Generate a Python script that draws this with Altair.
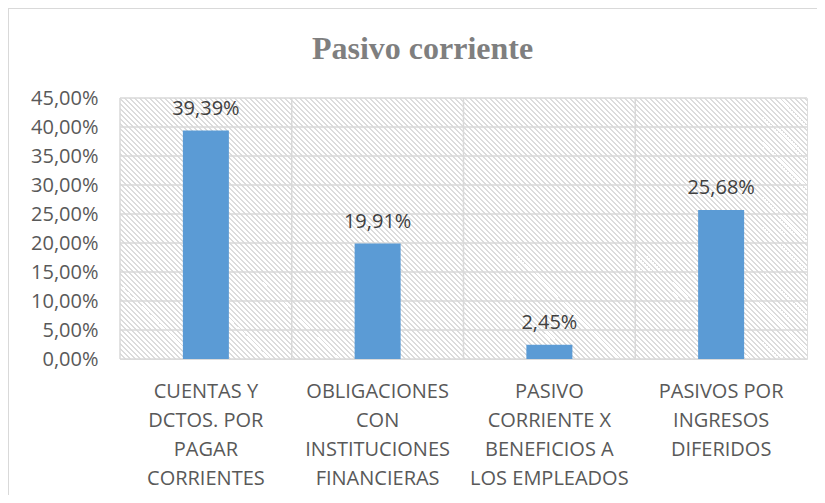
import altair as alt
import pandas as pd

# ---- data ----
categories = [
    "CUENTAS Y|DCTOS. POR|PAGAR|CORRIENTES",
    "OBLIGACIONES|CON|INSTITUCIONES|FINANCIERAS",
    "PASIVO|CORRIENTE X|BENEFICIOS A|LOS EMPLEADOS",
    "PASIVOS POR|INGRESOS|DIFERIDOS",
]
values = [0.3939, 0.1991, 0.0245, 0.2568]
y_ticks = [0.0, 0.05, 0.10, 0.15, 0.20, 0.25, 0.30, 0.35, 0.40, 0.45]

W, H = 687, 261

df = pd.DataFrame({"cat": categories, "v": values})
ticks_df = pd.DataFrame({"t": y_ticks})
one_df = pd.DataFrame({"a": [0]})

# ---- hatch pattern approximated by a striped linear gradient ----
k = (W + H) / (W * W + H * H)
period = 5.0
line_w = 1.4
tp = period / (W + H)
tw = line_w / (W + H)
stops = []
t = 0.0
hatch_col = "#dcdcdc"
while t < 1.0:
    a = min(t + tw, 1.0)
    b = min(t + tp, 1.0)
    stops += [
        {"offset": t, "color": hatch_col},
        {"offset": a, "color": hatch_col},
        {"offset": a, "color": "#ffffff"},
        {"offset": b, "color": "#ffffff"},
    ]
    t = b
hatch = alt.LinearGradient(
    gradient="linear", x1=0, y1=1, x2=W * k, y2=1 - H * k, stops=stops
)

x_scale = alt.Scale(paddingInner=0, paddingOuter=0)
y_scale = alt.Scale(domain=[0, 0.45], nice=False)

x_axis = alt.Axis(
    title=None, labelAngle=0, ticks=False, domain=False, grid=False,
    labelExpr="split(datum.label, '|')", labelFont="Open Sans",
    labelFontSize=20, labelColor="#595959", labelLineHeight=29,
    labelPadding=22, labelBaseline="top",
)
y_axis = alt.Axis(
    title=None, ticks=False, domain=False, grid=False, values=y_ticks,
    labelExpr="replace(format(datum.value, '.2%'), '.', ',')",
    labelFont="Open Sans", labelFontSize=20, labelColor="#595959",
    labelPadding=22,
)

bg = alt.Chart(one_df).mark_rect(fill=hatch, strokeWidth=0).encode(
    x=alt.value(0), x2=alt.value("width"), y=alt.value(0), y2=alt.value("height")
)

hgrid = alt.Chart(ticks_df).mark_rule(color="#d9d9d9", strokeWidth=1.5).encode(
    y=alt.Y("t:Q", scale=y_scale, axis=y_axis)
)

vgrid = alt.Chart(df).mark_rule(color="#d9d9d9", strokeWidth=1.5).encode(
    x=alt.X("cat:N", sort=categories, scale=x_scale, axis=x_axis, bandPosition=0)
)

bars = alt.Chart(df).mark_bar(color="#5b9bd5", size=46).encode(
    x=alt.X("cat:N", sort=categories, scale=x_scale, axis=x_axis),
    y=alt.Y("v:Q", scale=y_scale, axis=y_axis),
)

labels = alt.Chart(df).transform_calculate(
    lab="replace(format(datum.v, '.2%'), '.', ',')"
).mark_text(
    font="Open Sans", fontSize=20, color="#404040", baseline="alphabetic", dy=-16
).encode(
    x=alt.X("cat:N", sort=categories, scale=x_scale, axis=x_axis),
    y=alt.Y("v:Q", scale=y_scale, axis=y_axis),
    text="lab:N",
)

border_top = alt.Chart(one_df).mark_rule(color="#d9d9d9", strokeWidth=2).encode(
    x=alt.value(-112), x2=alt.value(W + 10), y=alt.value(-90)
)
border_left = alt.Chart(one_df).mark_rule(color="#d9d9d9", strokeWidth=2).encode(
    x=alt.value(-112), y=alt.value(-90), y2=alt.value(H + 140)
)

chart = alt.layer(bg, hgrid, vgrid, bars, labels, border_top, border_left).properties(
    width=W,
    height=H,
    autosize=alt.AutoSizeParams(type="none"),
    padding={"left": 112, "top": 90, "right": 10, "bottom": 136},
    title=alt.TitleParams(
        "Pasivo corriente", font="Liberation Serif", fontSize=32,
        fontWeight="bold", color="#7f7f7f", anchor="middle",
        baseline="alphabetic", offset=-84, dx=-41,
    ),
).configure_view(stroke="#d9d9d9", strokeWidth=1.5).configure(background="white")

chart.save("out.html", embed_options={"renderer": "svg", "actions": False})
